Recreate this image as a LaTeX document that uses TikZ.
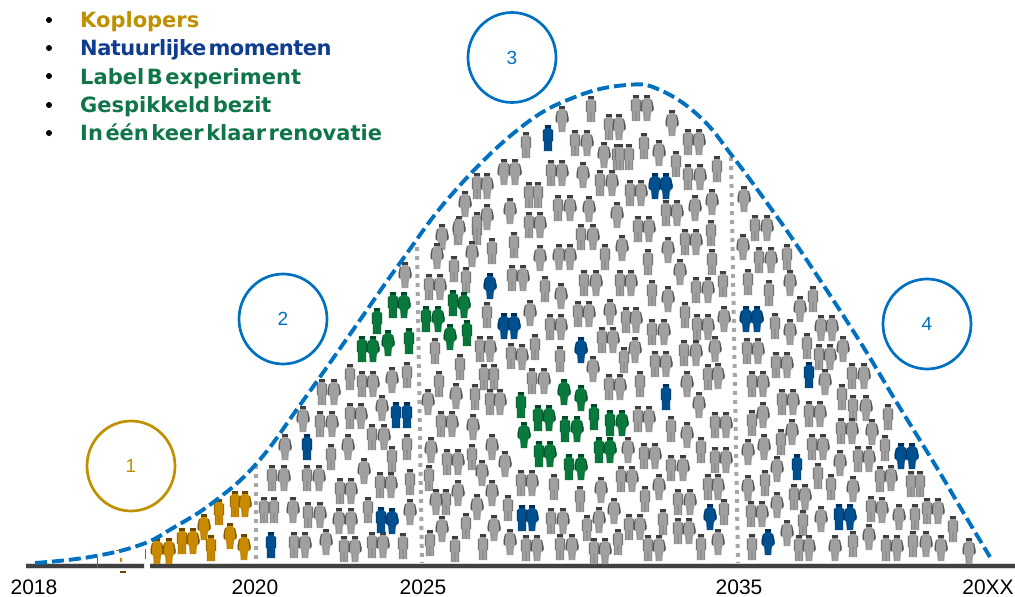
\documentclass[tikz,border=0pt]{standalone}
\usepackage{fontspec}
\setmainfont{Liberation Sans}
\newfontfamily\legfont[WordSpace=0.35]{DejaVu Sans}
\newfontfamily\legtight[WordSpace=0.35,LetterSpace=-2.5]{DejaVu Sans}
\definecolor{cblue}{HTML}{0070C0}
\definecolor{cgold}{HTML}{BF9000}
\definecolor{cdot}{HTML}{A6A6A6}
\definecolor{cbar}{HTML}{404040}
\definecolor{lnavy}{HTML}{0F3D91}
\definecolor{lgreen}{HTML}{107548}
\definecolor{gfill}{HTML}{A0A0A0}\definecolor{gedge}{HTML}{3F3F3F}
\definecolor{bfill}{HTML}{00508F}\definecolor{bedge}{HTML}{002F5C}
\definecolor{nfill}{HTML}{0A7A3C}\definecolor{nedge}{HTML}{04472A}
\definecolor{ofill}{HTML}{C98A00}\definecolor{oedge}{HTML}{6A4800}
\newcommand\figm[2]{%
  \begin{scope}[shift={(#1,#2)}]
  \fill[pf] (-3.2,-13)--(3.2,-13)--(3.2,-9)--(5.2,-8)--(5.2,3)--(4.2,3)--(4.2,13)--(-4.2,13)--(-4.2,3)--(-5.2,3)--(-5.2,-8)--(-3.2,-9)--cycle;
  \fill[pe] (-3.2,-13) rectangle (3.2,-10.5);
  \fill[pe,opacity=.45] (-5.2,-8) rectangle (-3.9,3) (3.9,-8) rectangle (5.2,3);
  \fill[pe,opacity=.22] (-4.2,3) rectangle (-3,13) (3,3) rectangle (4.2,13) (-.6,2.5) rectangle (.6,13);
  \end{scope}}
\newcommand\figf[2]{%
  \begin{scope}[shift={(#1,#2)}]
  \fill[pf] (-3,-13)--(3,-13)--(3,-9)--(5,-8)--(6.5,-1.5)--(6.5,2)--(3.8,5)--(3,13)--(-3,13)--(-3.8,5)--(-6.5,2)--(-6.5,-1.5)--(-5,-8)--(-3,-9)--cycle;
  \fill[pe] (-3,-13) rectangle (3,-10.5);
  \fill[pe,opacity=.75] (-6.5,-1.5)--(-5,-8)--(-4.2,-8)--(-5.2,-1)--(-5.2,3.4)--(-6.5,2)--cycle (6.5,-1.5)--(5,-8)--(4.2,-8)--(5.2,-1)--(5.2,3.4)--(6.5,2)--cycle;
  \fill[pe,opacity=.2] (-3.7,5) rectangle (-2.5,13) (2.5,5) rectangle (3.7,13);
  \end{scope}}
\newcommand\crowd[4]{\colorlet{pf}{#2}\colorlet{pe}{#3}%
  \foreach \a/\b in {#4}{\csname fig#1\endcsname{\a}{\b}}}
\usetikzlibrary{shapes.geometric}
\tikzset{
  ring/.style={draw,line width=2.7pt,fill=none,ellipse,minimum width=88pt,minimum height=90pt,inner sep=0pt,font=\fontsize{19}{21}\selectfont},
  yearlab/.style={font=\fontsize{21}{24}\selectfont,text=black,inner sep=0pt},
  leglab/.style={anchor=base west,inner sep=0pt,font=\legfont\bfseries\fontsize{21}{24}\selectfont},
  bull/.style={circle,fill=black,inner sep=0pt,minimum size=6pt},
  stopline/.style={draw=cdot,line width=4pt,dash pattern=on 4pt off 5pt},
}
\begin{document}
\begin{tikzpicture}[x=1pt,y=-1pt]
\useasboundingbox (0,0) rectangle (1015,597);
% stage dotted lines
\coordinate (d1a) at (255.5,465); \coordinate (d1b) at (255.5,563);
\coordinate (d2a) at (417,247); \coordinate (d2b) at (422,563);
\coordinate (d3a) at (731,157); \coordinate (d3b) at (738,563);
\draw[stopline] (d1a)--(d1b);
\draw[stopline] (d2a)--(d2b);
\draw[stopline] (d3a)--(d3b);
% baseline
\fill[cdot!70] (26,563.3) rectangle (144,568.6) (150,563.3) rectangle (1015,568.6);
\fill[cbar] (26,564.2) rectangle (144,567.8) (150,564.2) rectangle (1015,567.8);
% crumbs
\draw[cgold!70!black,line width=1pt] (97,558)--(97,568);
\draw[cgold!70!black,line width=1pt] (145,549)--(145,559);
\fill[cgold] (121,560) ellipse (1.3pt and 2.4pt);
\fill[oedge] (120,571.2) rectangle (126,572.8);
\fill[oedge!70] (116,549.5) rectangle (121,551);
% people
\crowd{m}{gfill}{gedge}{322/392,350/377,362/384,407/375,350/416,320/424,372/437,331/457,407/447,392/459,272/478,307/478,340/491,380/485,410/482,264/510,274/510,308/515,368/510,294/545,344/549,372/545,403/546,
458/232,492/251,477/232,514/245,454/269,466/280,429/287,512/278,487/315,435/351,480/349,511/356,460/367,484/377,494/377,439/384,475/397,490/402,
441/424,447/462,472/457,429/478,446/502,508/508,466/526,430/543,455/549,483/547,521/483,
591/109,526/145,609/127,575/143,617/157,551/173,600/183,477/186,529/195,538/195,558/208,477/225,529/225,581/237,
638/229,685/242,711/233,605/257,648/262,712/262,545/289,584/283,620/283,652/293,696/290,578/314,626/320,685/315,697/327,550/327,652/332,602/340,535/347,624/360,560/359,684/353,655/364,532/381,609/387,640/384,708/377,
638/419,671/429,715/425,644/456,701/450,715/460,671/468,621/479,554/487,708/487,580/499,645/499,678/502,551/521,587/528,629/527,663/522,678/531,526/548,560/547,594/551,618/542,648/548,701/547,
636/108,644/146,688/142,620/157,629/157,676/164,717/169,688/177,630/193,666/213,755/228,
759/260,787/257,723/284,748/282,769/293,813/299,775/326,807/346,747/351,819/357,776/365,852/376,752/384,842/397,782/402,
809/414,853/408,888/417,752/423,781/442,841/431,812/447,885/448,858/459,818/476,880/479,765/483,831/487,794/497,724/512,751/514,871/509,803/523,752/547,799/548,853/544,886/548,
911/484,920/484,915/517,927/511,953/529,913/544}
\crowd{f}{gfill}{gedge}{334/392,373/384,392/380,361/416,382/408,303/419,332/424,384/437,285/447,348/447,284/478,319/478,364/471,351/491,391/485,293/510,320/515,339/521,351/521,410/512,305/545,326/542,355/549,383/545,405/275,
442/237,437/256,472/254,440/287,490/349,456/396,500/402,428/402,
452/424,473/427,431/450,492/447,458/462,482/473,505/464,436/502,458/493,492/493,532/483,477/507,442/529,494/528,510/542,
562/119,619/127,587/143,604/155,504/172,515/172,562/173,583/175,612/183,487/186,465/204,570/208,589/209,617/215,510/211,487/217,540/225,459/229,593/237,
649/229,696/242,540/258,559/257,570/257,622/248,668/250,680/272,523/278,561/296,596/283,631/283,668/299,708/290,530/313,589/314,610/312,636/320,708/327,561/327,664/332,613/340,522/357,635/350,696/353,715/349,666/364,593/369,544/381,620/387,687/384,718/376,699/405,
649/419,687/435,628/450,655/456,683/468,632/479,659/487,601/490,718/487,690/502,614/511,563/521,599/520,640/527,689/531,537/548,572/547,605/551,659/548,718/542,
647/108,672/123,659/153,699/142,700/177,641/193,712/202,695/208,677/213,744/199,767/228,
743/247,771/260,790/283,800/309,724/319,790/332,821/328,832/328,758/351,843/349,830/357,787/365,864/376,825/382,763/384,793/402,
763/415,820/414,866/408,726/425,792/432,852/431,872/432,823/447,748/452,764/447,726/460,869/459,840/463,777/469,891/478,748/488,853/489,805/497,762/514,777/505,882/510,899/517,821/519,787/533,809/548,835/548,869/537,897/548,
938/511,926/544,941/548,969/551}
\crowd{m}{bfill}{bedge}{396/415,407/415,307/447,381/520,271/545,548/138,666/397,797/467,809/375,839/517,522/518}
\crowd{f}{bfill}{bedge}{392/521,490/286,504/326,514/326,581/350,655/186,666/186,532/518,710/517,746/319,757/319,901/456,912/456,850/517,768/542}
\crowd{m}{nfill}{nedge}{393/305,377/321,362/349,409/341,453/303,426/319,467/333,538/418,565/429,594/417,610/423,539/454,569/467,599/450,521/405}
\crowd{f}{nfill}{nedge}{404/305,373/349,388/343,464/305,438/319,450/337,549/418,577/429,622/423,524/435,550/454,581/467,610/450,564/392,581/398}
\crowd{m}{ofill}{oedge}{182/541,211/548,219/512,235/504}
\crowd{f}{ofill}{oedge}{157/551,169/551,193/541,204/527,230/536,245/504,244/547}
% adoption curve
\draw[cblue,line width=3.9pt,dash pattern=on 12pt off 5pt] plot[smooth,tension=.7] coordinates {(35,563)(90,557)(140,545)(173,528)(215,501)(257,463)(300,405)(353,330)(400,263)(453,193)(520,128)(575,97)(627,85)(660,90)(700,117)(733,157)(767,203)(800,250)(857,337)(897,403)(937,468)(963,512)(990,557)};
% circles
\node[ring,draw=cgold,text=cgold] (c1) at (131,466) {1};
\node[ring,draw=cblue,text=cblue] (c2) at (283,319) {2};
\node[ring,draw=cblue,text=cblue] (c3) at (512,57.5) {3};
\node[ring,draw=cblue,text=cblue] (c4) at (927,324) {4};
% years
\node[yearlab] (y18) at (34,587) {2018};
\node[yearlab] (y20) at (255,587) {2020};
\node[yearlab] (y25) at (423,587) {2025};
\node[yearlab] (y35) at (739,587) {2035};
\node[yearlab] (yxx) at (988,587) {20XX};
% legend
\node[bull] (b1) at (49,20) {};
\node[bull] (b2) at (49,48) {};
\node[bull] (b3) at (49,76) {};
\node[bull] (b4) at (49,105) {};
\node[bull] (b5) at (49,133) {};
\node[leglab,text=cgold] (l1) at (80,27.5) {Koplopers};
\node[leglab,text=lnavy] (l2) at (80,55.5) {\legtight\bfseries Natuurlijke momenten};
\node[leglab,text=lgreen] (l3) at (80,84) {Label B experiment};
\node[leglab,text=lgreen] (l4) at (80,112) {Gespikkeld bezit};
\node[leglab,text=lgreen] (l5) at (80,140) {In één keer klaar renovatie};
\end{tikzpicture}
\end{document}
